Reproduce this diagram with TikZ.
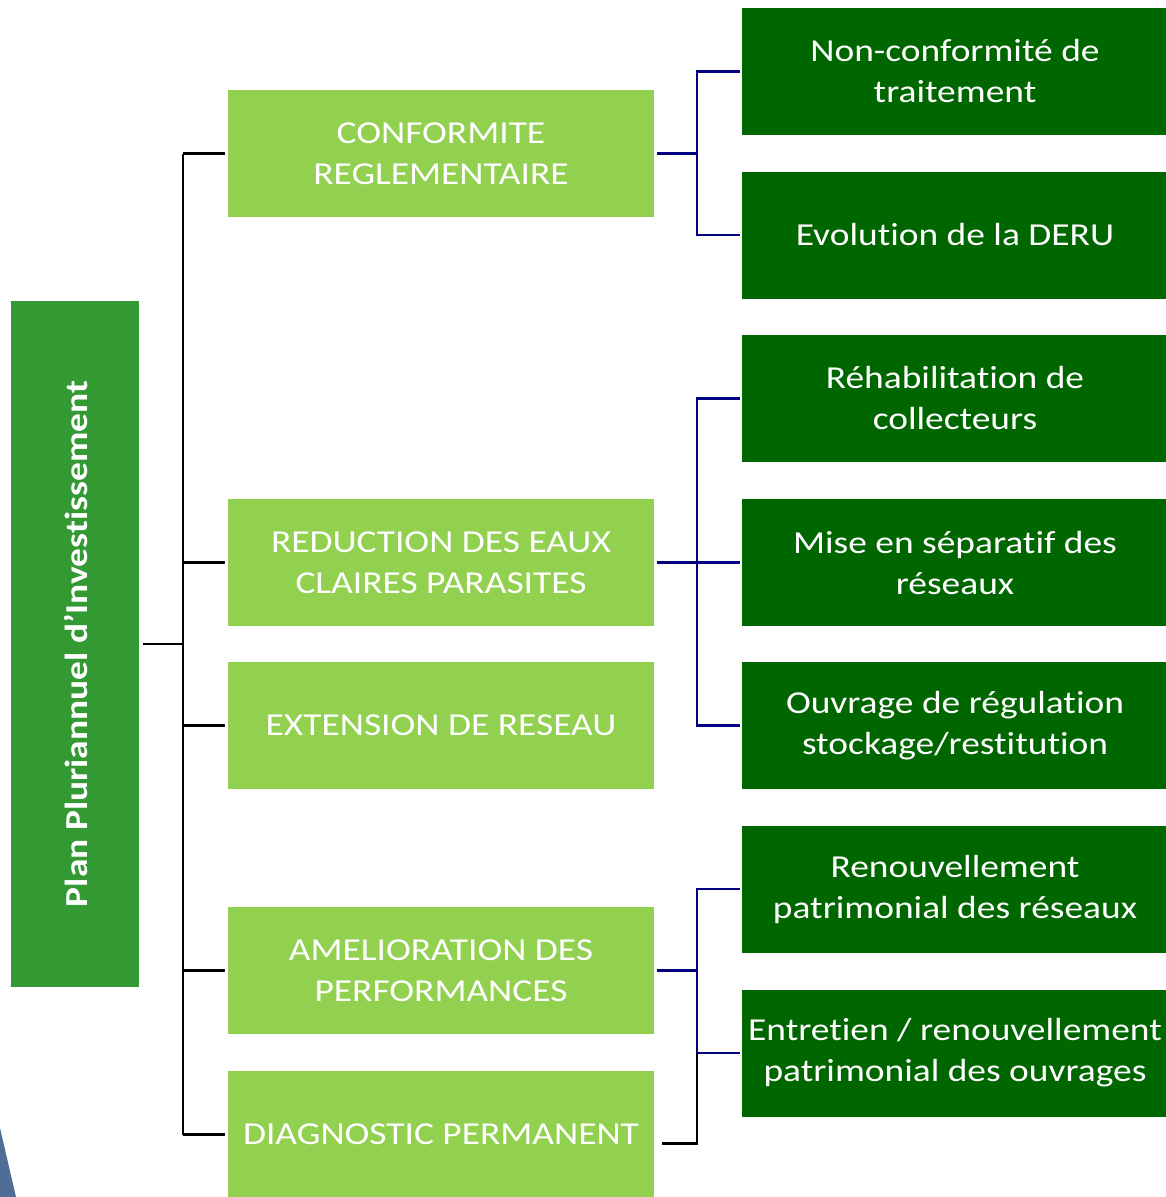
\documentclass[tikz,border=0pt]{standalone}
\usepackage{fontspec}
\setmainfont{Carlito}[FakeStretch=1.17,Ligatures=NoCommon]
\definecolor{rootgreen}{HTML}{339933}
\definecolor{lightgreen}{HTML}{92D050}
\definecolor{darkgreen}{HTML}{006600}
\definecolor{navyline}{HTML}{000080}
\definecolor{bluewedge}{HTML}{4F6D96}
\begin{document}
\begin{tikzpicture}[x=1pt,y=-1pt,
  lvlone/.style={fill=lightgreen,draw=none,minimum width=426pt,minimum height=127pt,inner sep=0pt,text=white,align=center,font=\fontsize{32}{41}\selectfont},
  lvltwo/.style={fill=darkgreen,draw=none,minimum width=426pt,minimum height=127pt,inner sep=0pt,text=white,align=center,font=\fontsize{32}{41}\selectfont},
  blk/.style={line width=2.5pt,black},
  nav/.style={line width=2.5pt,navyline}]
\useasboundingbox (0,0) rectangle (1166,1197);
\clip (0,0) rectangle (1166,1197);
\fill[bluewedge] (0,1128) -- (16,1197) -- (0,1197) -- cycle;
% root
\node[fill=rootgreen,minimum width=128pt,minimum height=686pt,inner sep=0pt] (root) at (75,644) {};
\node[rotate=90,text=white,font=\fontsize{32}{38}\selectfont\bfseries] (roottext) at ([xshift=1pt]root.center) {Plan Pluriannuel d’Investissement};
% level one
\node[lvlone] (c1) at (441,153.5) {CONFORMITE\\REGLEMENTAIRE};
\node[lvlone] (c2) at (441,562.5) {REDUCTION DES EAUX\\CLAIRES PARASITES};
\node[lvlone] (c3) at (441,725.5) {EXTENSION DE RESEAU};
\node[lvlone] (c4) at (441,970.5) {AMELIORATION DES\\PERFORMANCES};
\node[lvlone] (c5) at (441,1134.5) {DIAGNOSTIC PERMANENT};
% level two
\node[lvltwo] (d1) at (955,71.5) {Non-conformité de\\traitement};
\node[lvltwo] (d2) at (955,235) {Evolution de la DERU};
\node[lvltwo] (d3) at (955,398.5) {Réhabilitation de\\collecteurs};
\node[lvltwo] (d4) at (955,562.5) {Mise en séparatif des\\réseaux};
\node[lvltwo] (d5) at (955,725.5) {Ouvrage de régulation\\stockage/restitution};
\node[lvltwo] (d6) at (955,889) {Renouvellement\\patrimonial des réseaux};
\node[lvltwo] (d7) at (955,1053) {Entretien / renouvellement\\patrimonial des ouvrages};
% trunk coordinates
\coordinate (ta) at (183,0);
\coordinate (tb) at (697,0);
% root connectors
\draw[blk] ([xshift=4pt]root.east) -- (ta |- root.east);
\draw[blk] (ta |- c1.west) -- (ta |- c5.west);
\foreach \n in {c1,c2,c3,c4,c5}
  \draw[blk] (ta |- \n.west) -- ([xshift=-3pt]\n.west);
% navy connectors
\draw[nav] ([xshift=3pt]c1.east) -- (tb |- c1.east);
\draw[nav] ([xshift=-2pt]d1.west) -| (tb |- d2.west) -- ([xshift=-2pt]d2.west);
\draw[nav] ([xshift=3pt]c2.east) -- ([xshift=-2pt]d4.west);
\draw[nav] ([xshift=-2pt]d3.west) -| (tb |- d5.west) -- ([xshift=-2pt]d5.west);
\draw[nav] ([xshift=3pt]c4.east) -- (tb |- c4.east);
\draw[nav] ([xshift=-2pt]d6.west) -| (tb |- d7.west) -- ([xshift=-2pt]d7.west);
\coordinate (dg) at ([xshift=8pt,yshift=-9pt]c5.east);
\draw[blk] (dg) -- (tb |- dg) -- (tb |- d7.west);
\end{tikzpicture}
\end{document}
